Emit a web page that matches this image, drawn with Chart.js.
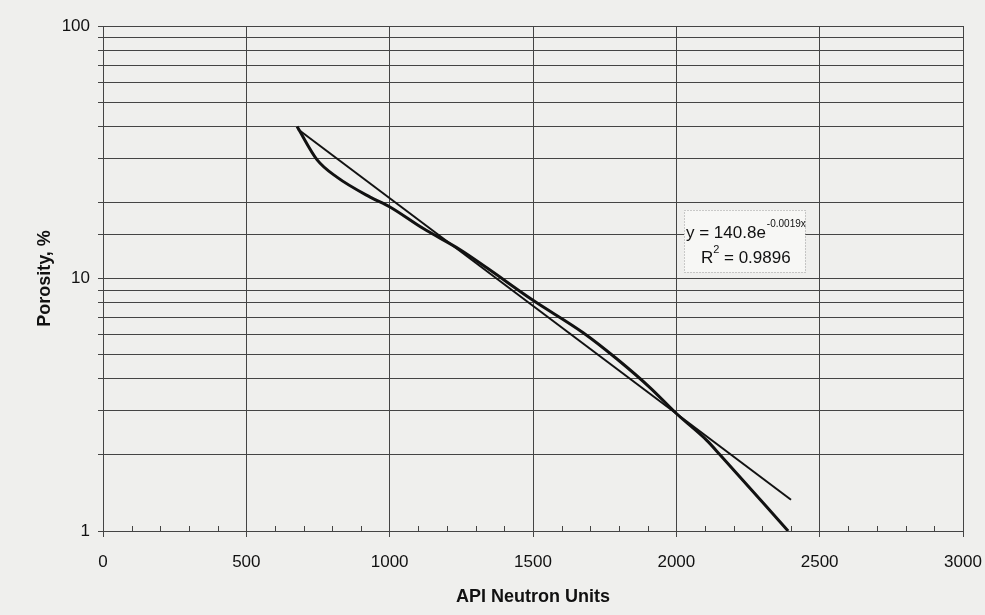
<!DOCTYPE html>
<html>
<head>
<meta charset="utf-8">
<script src="https://cdn.jsdelivr.net/npm/chart.js@4/dist/chart.umd.min.js"></script>
<style>
  html, body { margin: 0; padding: 0; background: #efefed; }
  #wrap { width: 985px; height: 615px; }
</style>
</head>
<body>
<div id="wrap"><canvas id="porosityChart" width="985" height="615"></canvas></div>
<script>
// Datos (API vs porosidad)
const apiUnits = [677, 747, 816, 932, 1001, 1116, 1246, 1340, 1500, 1675, 1793, 1908, 2003, 2107, 2153, 2390];
const porosity = [40, 29.5, 25.2, 21.0, 19.2, 15.8, 13.0, 11.0, 8.2, 6.1, 4.8, 3.7, 2.9, 2.28, 2.0, 1.0];

// Linea de tendencia: extremos
const trendX = [680, 2400];
const trendY = [39, 1.33];

const yLabels = [1, 10, 100];
const xLabelStep = 500;
const eqText = 'y = 140.8e';
const eqExp = '-0.0019x';
const r2Text = '0.9896';

const ink = '#111';
const gridInk = '#444';
const font = 'Liberation Sans, Arial, sans-serif';

// ticks menores del eje x (hacia adentro)
const minorTicks = {
  id: 'minorTicks',
  afterDatasetsDraw(chart) {
    const x = chart.scales.x, y = chart.scales.y, c = chart.ctx;
    c.save();
    c.strokeStyle = gridInk;
    c.lineWidth = 1;
    for (let v = 100; v < 3000; v += 100) {
      if (v % xLabelStep === 0) continue;
      const px = Math.round(x.getPixelForValue(v)) + 0.5;
      c.beginPath();
      c.moveTo(px, y.bottom);
      c.lineTo(px, y.bottom - 5);
      c.stroke();
    }
    c.restore();
  }
};

// cuadro con la ecuacion
const eqBox = {
  id: 'eqBox',
  afterDatasetsDraw(chart) {
    const c = chart.ctx;
    const bx = 684, by = 210, bw = 121, bh = 62;
    c.save();
    c.fillStyle = '#f7f7f5';
    c.fillRect(bx, by, bw, bh);
    c.setLineDash([1, 2]);
    c.strokeStyle = '#9a9a9a';
    c.strokeRect(bx + 0.5, by + 0.5, bw, bh);
    c.setLineDash([]);
    c.fillStyle = ink;
    c.textBaseline = 'alphabetic';
    c.font = '17px ' + font;
    c.fillText(eqText, 686, 238);
    const w = c.measureText(eqText).width;
    c.font = '10px ' + font;
    c.fillText(eqExp, 686 + w + 1, 227);
    c.font = '17px ' + font;
    c.fillText('R', 701, 263);
    const wr = c.measureText('R').width;
    c.font = '11px ' + font;
    c.fillText('2', 701 + wr, 253);
    c.font = '17px ' + font;
    c.fillText(' = ' + r2Text, 701 + wr + 6, 263);
    c.restore();
  }
};

new Chart(document.getElementById('porosityChart'), {
  type: 'line',
  data: {
    datasets: [
      {
        label: 'Datos',
        data: apiUnits.map((x, i) => ({ x: x, y: porosity[i] })),
        borderColor: ink,
        borderWidth: 3,
        pointRadius: 0,
        cubicInterpolationMode: 'monotone'
      },
      {
        label: 'Tendencia',
        data: trendX.map((x, i) => ({ x: x, y: trendY[i] })),
        borderColor: ink,
        borderWidth: 2,
        pointRadius: 0
      }
    ]
  },
  options: {
    responsive: false,
    animation: false,
    layout: { padding: { left: 0, top: 26, right: 22, bottom: 0 } },
    plugins: { legend: { display: false }, tooltip: { enabled: false } },
    scales: {
      x: {
        type: 'linear',
        min: 0,
        max: 3000,
        afterFit: s => { s.height = 84; s.paddingLeft = 0; s.paddingRight = 0; },
        border: { color: gridInk, width: 1 },
        grid: {
          color: ctx => (ctx.tick && ctx.tick.value % xLabelStep === 0) ? gridInk : 'transparent',
          tickColor: ctx => (ctx.tick && ctx.tick.value % xLabelStep === 0) ? gridInk : 'transparent',
          tickLength: 6
        },
        ticks: {
          stepSize: 100,
          autoSkip: false,
          maxRotation: 0,
          padding: 15,
          color: ink,
          font: { family: font, size: 17 },
          callback: v => v % xLabelStep === 0 ? v : ''
        },
        title: {
          display: true,
          text: 'API Neutron Units',
          color: ink,
          font: { family: font, size: 18, weight: 'bold' },
          padding: { top: 4, bottom: 7 }
        }
      },
      y: {
        type: 'logarithmic',
        min: 1,
        max: 100,
        afterFit: s => { s.width = 103; },
        border: { color: gridInk, width: 1 },
        grid: { color: gridInk, tickColor: gridInk, tickLength: 5 },
        ticks: {
          autoSkip: false,
          padding: 8,
          color: ink,
          font: { family: font, size: 17 },
          callback: v => yLabels.includes(v) ? v : ''
        },
        title: {
          display: true,
          text: 'Porosity, %',
          color: ink,
          font: { family: font, size: 18, weight: 'bold' },
          padding: { top: 34, bottom: 0 }
        }
      }
    }
  },
  plugins: [minorTicks, eqBox]
});
</script>
</body>
</html>
